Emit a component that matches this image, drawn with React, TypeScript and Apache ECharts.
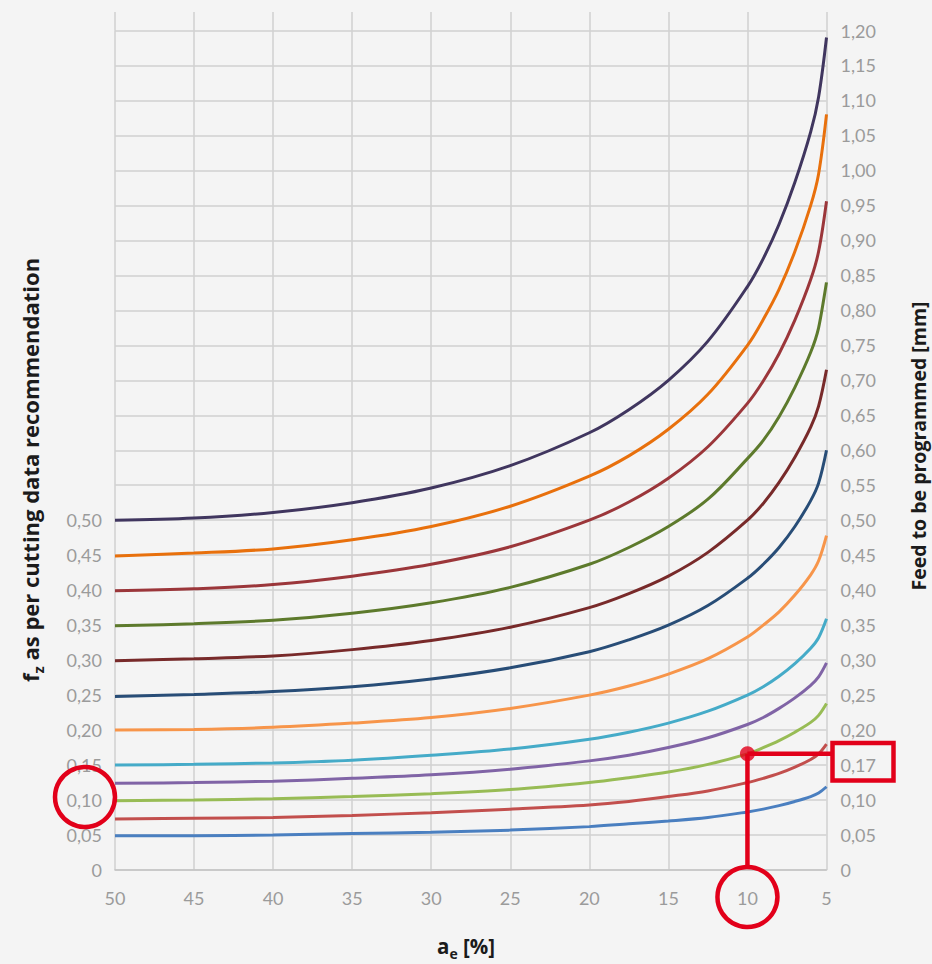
import React, { useEffect, useRef } from "react";
import * as echarts from "echarts";

// a_e [%] sample positions (x axis, reversed: 50 on the left, 5 on the right)
const aePercent = [50, 45, 40, 35, 30, 25, 20, 17.5, 15, 12.5, 10, 9, 8, 7, 6, 5.5, 5];

// Feed to be programmed [mm] for each f_z curve
const feed050 = [0.5, 0.503, 0.511, 0.525, 0.546, 0.578, 0.625, 0.658, 0.7, 0.756, 0.834, 0.874, 0.923, 0.983, 1.055, 1.105, 1.19];
const feed045 = [0.449, 0.453, 0.459, 0.472, 0.491, 0.52, 0.563, 0.592, 0.63, 0.68, 0.75, 0.787, 0.83, 0.884, 0.95, 0.995, 1.08];
const feed040 = [0.399, 0.402, 0.408, 0.42, 0.437, 0.462, 0.5, 0.526, 0.56, 0.605, 0.667, 0.699, 0.738, 0.786, 0.844, 0.884, 0.956];
const feed035 = [0.349, 0.352, 0.357, 0.367, 0.382, 0.404, 0.437, 0.461, 0.491, 0.53, 0.588, 0.614, 0.648, 0.69, 0.74, 0.775, 0.84];
const feed030 = [0.299, 0.302, 0.306, 0.315, 0.328, 0.347, 0.375, 0.395, 0.42, 0.454, 0.5, 0.524, 0.554, 0.59, 0.633, 0.663, 0.715];
const feed025 = [0.248, 0.251, 0.255, 0.262, 0.273, 0.289, 0.312, 0.329, 0.35, 0.378, 0.417, 0.437, 0.461, 0.491, 0.528, 0.553, 0.6];
const feed020 = [0.2, 0.201, 0.204, 0.21, 0.218, 0.231, 0.25, 0.263, 0.28, 0.302, 0.333, 0.35, 0.369, 0.393, 0.422, 0.442, 0.478];
const feed015 = [0.15, 0.151, 0.153, 0.157, 0.164, 0.173, 0.187, 0.197, 0.21, 0.227, 0.25, 0.262, 0.277, 0.295, 0.317, 0.332, 0.359];
const feed0125 = [0.124, 0.125, 0.127, 0.131, 0.136, 0.144, 0.156, 0.164, 0.175, 0.189, 0.208, 0.218, 0.231, 0.246, 0.264, 0.276, 0.296];
const feed010 = [0.099, 0.1, 0.102, 0.105, 0.109, 0.115, 0.125, 0.132, 0.14, 0.151, 0.166, 0.175, 0.185, 0.197, 0.211, 0.221, 0.238];
const feed0075 = [0.073, 0.074, 0.075, 0.078, 0.082, 0.087, 0.093, 0.098, 0.105, 0.113, 0.125, 0.131, 0.138, 0.147, 0.158, 0.166, 0.18];
const feed005 = [0.049, 0.049, 0.05, 0.052, 0.054, 0.057, 0.062, 0.066, 0.07, 0.075, 0.083, 0.087, 0.092, 0.098, 0.105, 0.11, 0.119];

const curveNames = ["0,50", "0,45", "0,40", "0,35", "0,30", "0,25", "0,20", "0,15", "0,125", "0,10", "0,075", "0,05"];
const curveValues = [feed050, feed045, feed040, feed035, feed030, feed025, feed020, feed015, feed0125, feed010, feed0075, feed005];
const curveColors = ["#40365f", "#e8700c", "#9b363a", "#5d7a2c", "#782a2a", "#284d77", "#f7954a", "#45abc8", "#8064a6", "#98bc55", "#c24f4d", "#4a7fc0"];

// worked example: a_e = 10 %, f_z = 0,10 -> programmed feed 0,17
const exampleAe = 10;
const exampleFz = 0.1;
const exampleFeed = 0.166;
const exampleLabel = "0,17";

const RED = "#e2001a";
const GRAY_TEXT = "#9b9b9b";
const GRID = "#d0d0d0";

const fmt = (v: number) => (Math.abs(v) < 1e-9 ? "0" : v.toFixed(2).replace(".", ","));

export default function App() {
  const ref = useRef<HTMLDivElement>(null);

  useEffect(() => {
    if (!ref.current) return;
    const chart = echarts.init(ref.current, null, { renderer: "svg" });

    const xAxisBase = {
      type: "value",
      min: 5,
      max: 50,
      interval: 5,
      inverse: true,
      axisTick: { show: false },
      splitLine: { show: true, lineStyle: { color: GRID, width: 1.5 } },
    };

    const series: any[] = curveValues.map((vals, i) => ({
      name: curveNames[i],
      type: "line",
      xAxisIndex: 0,
      yAxisIndex: 0,
      smooth: 0.35,
      showSymbol: false,
      symbol: "none",
      lineStyle: { color: curveColors[i], width: 3 },
      itemStyle: { color: curveColors[i] },
      data: aePercent.map((x, j) => [x, vals[j]]),
      z: 3,
    }));

    series.push({
      type: "scatter",
      xAxisIndex: 0,
      yAxisIndex: 0,
      symbolSize: 15,
      itemStyle: { color: RED },
      data: [[exampleAe, exampleFeed]],
      z: 10,
    });

    const option: any = {
      animation: false,
      backgroundColor: "#f4f4f4",
      textStyle: { fontFamily: "Lato" },
      grid: [
        { left: 115, top: 30.5, width: 711.5, height: 839.5 },
        { left: 115, top: 12, width: 711.5, height: 18.5 },
      ],
      xAxis: [
        {
          ...xAxisBase,
          gridIndex: 0,
          axisLine: { show: true, lineStyle: { color: "#c4c4c4", width: 1.5 } },
          axisLabel: { color: GRAY_TEXT, fontSize: 18, fontFamily: "Lato", margin: 19 },
        },
        {
          ...xAxisBase,
          gridIndex: 1,
          axisLine: { show: false },
          axisLabel: { show: false },
        },
      ],
      yAxis: [
        {
          gridIndex: 0,
          type: "value",
          min: 0,
          max: 1.2,
          interval: 0.05,
          position: "left",
          axisLine: { show: false },
          axisTick: { show: false },
          splitLine: { show: true, lineStyle: { color: GRID, width: 1.5 } },
          axisLabel: {
            color: GRAY_TEXT,
            fontSize: 18,
            fontFamily: "Lato",
            margin: 13,
            formatter: (v: number) => (Math.round(v * 100) > 50 ? "" : fmt(v)),
          },
        },
        {
          gridIndex: 0,
          type: "value",
          min: 0,
          max: 1.2,
          interval: 0.05,
          position: "right",
          axisLine: { show: false },
          axisTick: { show: false },
          splitLine: { show: false },
          axisLabel: {
            color: GRAY_TEXT,
            fontSize: 18,
            fontFamily: "Lato",
            margin: 14,
            formatter: (v: number) => (Math.round(v * 100) === 15 ? exampleLabel : fmt(v)),
          },
        },
        { gridIndex: 1, type: "value", min: 0, max: 1, show: false },
      ],
      series,
    };

    chart.setOption(option);

    const dot = chart.convertToPixel({ xAxisIndex: 0, yAxisIndex: 0 }, [exampleAe, exampleFeed]) as number[];
    const xRight = chart.convertToPixel({ xAxisIndex: 0 }, 5) as number;
    const xLeft = chart.convertToPixel({ xAxisIndex: 0 }, 50) as number;
    const y0 = chart.convertToPixel({ yAxisIndex: 0 }, 0) as number;
    const y015 = chart.convertToPixel({ yAxisIndex: 0 }, 0.15) as number;
    const yFz = chart.convertToPixel({ yAxisIndex: 0 }, exampleFz) as number;

    const r = 30;
    const bottomCy = y0 + 27;
    const titleStyle = { fill: "#1b1b1b", fontFamily: "Open Sans", fontWeight: "bold" };
    const richLeft = {
      b: { ...titleStyle, fontSize: 22, lineHeight: 30, verticalAlign: "middle" },
      s: { ...titleStyle, fontSize: 15, lineHeight: 30, verticalAlign: "bottom", padding: [10, 0, 0, 0] },
    };
    const richBottom = {
      b: { ...titleStyle, fontSize: 20.5, lineHeight: 28, verticalAlign: "middle" },
      s: { ...titleStyle, fontSize: 14, lineHeight: 28, verticalAlign: "bottom", padding: [9, 0, 0, 0] },
    };

    chart.setOption({
      graphic: [
        {
          type: "line",
          shape: { x1: dot[0], y1: dot[1], x2: dot[0], y2: bottomCy - r },
          style: { stroke: RED, lineWidth: 4.5 },
          z: 20,
        },
        {
          type: "line",
          shape: { x1: dot[0], y1: dot[1], x2: xRight + 7, y2: dot[1] },
          style: { stroke: RED, lineWidth: 4.5 },
          z: 20,
        },
        {
          type: "rect",
          shape: { x: xRight + 6, y: y015 - 22, width: 61, height: 37.5 },
          style: { stroke: RED, lineWidth: 4.5, fill: "none" },
          z: 20,
        },
        {
          type: "circle",
          shape: { cx: dot[0], cy: bottomCy, r },
          style: { stroke: RED, lineWidth: 4.5, fill: "none" },
          z: 20,
        },
        {
          type: "circle",
          shape: { cx: xLeft - 30, cy: yFz - 3, r },
          style: { stroke: RED, lineWidth: 4.5, fill: "none" },
          z: 20,
        },
        {
          type: "text",
          x: 30,
          y: 470,
          rotation: Math.PI / 2,
          style: {
            text: "{b|f}{s|z}{b| as per cutting data recommendation}",
            align: "center",
            verticalAlign: "middle",
            rich: richLeft,
          },
        },
        {
          type: "text",
          x: 918,
          y: 446,
          rotation: Math.PI / 2,
          style: {
            text: "Feed to be programmed [mm]",
            align: "center",
            verticalAlign: "middle",
            ...titleStyle,
            fontSize: 19.5,
          },
        },
        {
          type: "text",
          x: 466,
          y: 946,
          style: {
            text: "{b|a}{s|e}{b| [%]}",
            align: "center",
            verticalAlign: "middle",
            rich: richBottom,
          },
        },
      ],
    });

    return () => chart.dispose();
  }, []);

  return (
    <div
      ref={ref}
      style={{ position: "fixed", left: 0, top: 0, width: 932, height: 964, background: "#f4f4f4" }}
    />
  );
}
